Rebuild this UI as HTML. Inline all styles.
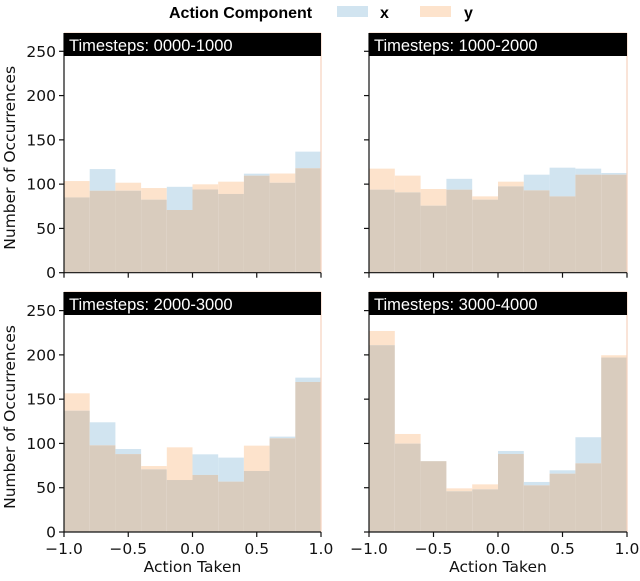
<!DOCTYPE html>
<html><head><meta charset="utf-8"><style>
body{margin:0;background:#fff;width:640px;height:576px;overflow:hidden}
svg{font-family:"DejaVu Sans","Liberation Sans",sans-serif}
</style></head><body>
<svg id="chart" width="640" height="576" viewBox="0 0 640 576"></svg>
<script>
const binEdges = [-1.0,-0.8,-0.6,-0.4,-0.2,0.0,0.2,0.4,0.6,0.8,1.0];
const panelTitles = ["Timesteps: 0000-1000","Timesteps: 1000-2000","Timesteps: 2000-3000","Timesteps: 3000-4000"];
const xCounts0 = [85,117,92.6,82.5,97,94,88.9,111.8,101.6,136.7];
const yCounts0 = [103.5,92.6,101.6,95.6,70.8,99.8,102.8,109.6,112,118];
const xCounts1 = [93.8,90.7,75.7,106,82.5,97.5,110.7,118.6,117.5,112.6];
const yCounts1 = [117.5,109.6,94.5,93.8,86.2,102.8,93,86.2,110.7,110.7];
const xCounts2 = [137,123.9,93.7,70.8,58.7,87.7,84,68.9,107.7,174.3];
const yCounts2 = [156.6,97.9,88,74.5,95.6,64.4,56.9,97.5,105.8,169.4];
const xCounts3 = [211,99.8,80,46,48.2,91.5,56.5,69.7,107,197];
const yCounts3 = [227,110.7,80,49.3,53.8,88.1,52.7,65.9,77.6,199.6];
const yTicks = [0,50,100,150,200,250];
const xTicks = [-1.0,-0.5,0.0,0.5,1.0];
const xTickLabels = ["\u22121.0","\u22120.5","0.0","0.5","1.0"];
const xSeries=[xCounts0,xCounts1,xCounts2,xCounts3], ySeries=[yCounts0,yCounts1,yCounts2,yCounts3];

const svg=document.getElementById('chart');
const NS='http://www.w3.org/2000/svg';
function mk(tag,attrs,parent,text){const e=document.createElementNS(NS,tag);for(const k in attrs)e.setAttribute(k,attrs[k]);if(text!==undefined)e.textContent=text;(parent||svg).appendChild(e);return e;}

const panels=[{x0:64,x1:321,top:33,zero:272.7},{x0:369,x1:627,top:33,zero:272.7},{x0:64,x1:321,top:292,zero:532},{x0:369,x1:627,top:292,zero:532}];
const pxPerUnit=(272.7-51.3)/250;
const BLUE='#d1e4f0',ORANGE='#fde3cc',MIX='#d9ccbe';

panels.forEach((p,i)=>{
  const g=mk('g',{});
  
  
  const sx=v=>p.x0+(v+1)/2*(p.x1-p.x0);
  const sy=v=>p.zero-v*pxPerUnit;
  const xs=xSeries[i], ys=ySeries[i];
  for(let b=0;b<xs.length;b++){
    const l=sx(binEdges[b]), r=sx(binEdges[b+1]);
    const hi=Math.max(xs[b],ys[b]), lo=Math.min(xs[b],ys[b]);
    const top=mk('rect',{x:l,y:sy(hi),width:r-l,height:sy(lo)-sy(hi),fill:xs[b]>ys[b]?BLUE:ORANGE},g);
    
    
    const ov=mk('rect',{x:l,y:sy(lo),width:r-l,height:p.zero-sy(lo),fill:MIX},g);
    
    
  }
  mk('line',{x1:p.x0,y1:p.top,x2:p.x1,y2:p.top,stroke:'#f6d3bf','stroke-width':1},g);
  mk('line',{x1:p.x1,y1:p.top,x2:p.x1,y2:p.zero,stroke:'#f6d3bf','stroke-width':1.2},g);
  mk('line',{x1:p.x0,y1:p.top,x2:p.x0,y2:p.zero+0.5,stroke:'#111','stroke-width':1.2},g);
  mk('line',{x1:p.x0,y1:p.zero,x2:p.x1,y2:p.zero,stroke:'#111','stroke-width':1.2},g);
  const hb=mk('rect',{x:p.x0,y:p.top,width:p.x1-p.x0,height:23,fill:'#000'},g);
  
  
  const ht=mk('text',{x:p.x0+5,y:p.top+18,fill:'#fff','font-size':16.5,'font-family':'"Liberation Sans",sans-serif'},g,panelTitles[i]);
  
  
  yTicks.forEach(t=>{
    mk('line',{x1:p.x0-5,y1:sy(t),x2:p.x0,y2:sy(t),stroke:'#111','stroke-width':1.2},g);
    if(p.x0<100){const tl=mk('text',{x:p.x0-8,y:sy(t)+5.5,'text-anchor':'end','font-size':15.5,fill:'#111'},g,String(t));
      }
  });
  xTicks.forEach((t,k)=>{
    mk('line',{x1:sx(t),y1:p.zero,x2:sx(t),y2:p.zero+5,stroke:'#111','stroke-width':1.2},g);
    if(p.top>200){const tl=mk('text',{x:sx(t),y:p.zero+22,'text-anchor':'middle','font-size':15.5,fill:'#111'},g,xTickLabels[k]);
      }
  });
  if(p.top>200){const xl=mk('text',{x:(p.x0+p.x1)/2,y:572,'text-anchor':'middle','font-size':15.5,fill:'#111'},g,'Action Taken');
    }
  if(p.x0<100){const cy=(p.top+p.zero)/2+5;const yl=mk('text',{x:15,y:cy,'text-anchor':'middle','font-size':15.5,fill:'#111',transform:'rotate(-90 15 '+cy+')'},g,'Number of Occurrences');
    }
});
const lg=mk('g',{});


mk('text',{x:169,y:18,'font-size':16,'font-weight':'bold','font-family':'"Liberation Sans",sans-serif',fill:'#000'},lg,'Action Component');
const lx=mk('rect',{x:337,y:6,width:31,height:11,fill:BLUE},lg);

mk('text',{x:380,y:18,'font-size':16,'font-weight':'bold','font-family':'"Liberation Sans",sans-serif'},lg,'x');
const ly=mk('rect',{x:420,y:6,width:31,height:11,fill:ORANGE},lg);

mk('text',{x:464,y:18,'font-size':16,'font-weight':'bold','font-family':'"Liberation Sans",sans-serif'},lg,'y');
</script>
</body></html>
